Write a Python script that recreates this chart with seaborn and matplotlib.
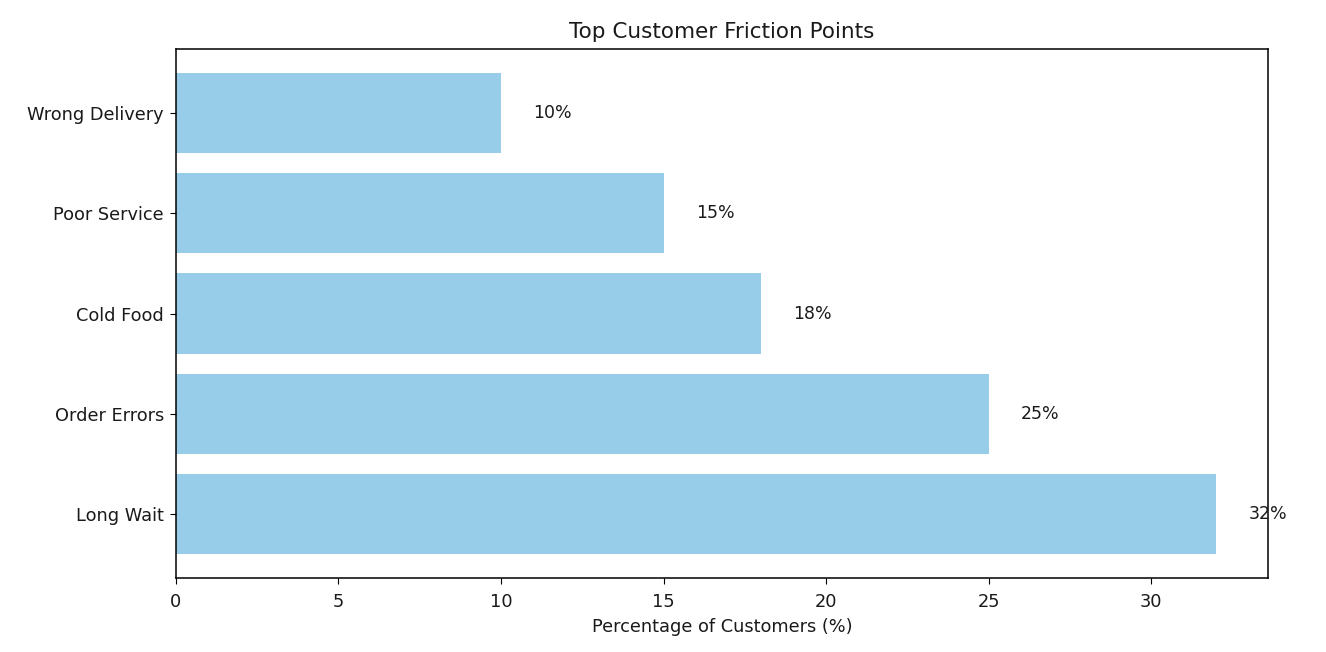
import matplotlib
matplotlib.use('Agg')
import matplotlib.pyplot as plt
import seaborn as sns

# Friction points, top to bottom as shown in the chart
categories = ['Wrong Delivery', 'Poor Service', 'Cold Food', 'Order Errors', 'Long Wait']
percentages = [10, 15, 18, 25, 32]

fig = plt.figure(figsize=(13.26, 6.52), dpi=100)
ax = fig.add_axes([0.1327, 0.1135, 0.8236, 0.8113])

sns.barplot(x=percentages, y=categories, order=categories, orient='h',
            color='#97CDE9', saturation=1, width=0.8, ax=ax)

# value labels to the right of each bar
for i, v in enumerate(percentages):
    ax.text(v + 1, i, f'{v}%', va='center', fontsize=12.5, color='#1a1a1a')

ax.set_xlim(0, max(percentages) * 1.05)
ax.set_ylim(len(categories) - 1 + 0.64, -0.64)
ax.set_title('Top Customer Friction Points', fontsize=15.5, pad=8, color='#1a1a1a')
ax.set_xlabel('Percentage of Customers (%)', fontsize=12.8, labelpad=5, color='#1a1a1a')
ax.set_ylabel('')
ax.tick_params(labelsize=12.8, length=4.2, labelcolor='#1a1a1a')
ax.tick_params(axis='x', pad=6.5)
ax.tick_params(axis='y', pad=4.5)
for s in ax.spines.values():
    s.set_linewidth(1.1)

fig.savefig('out.png', dpi=100)
